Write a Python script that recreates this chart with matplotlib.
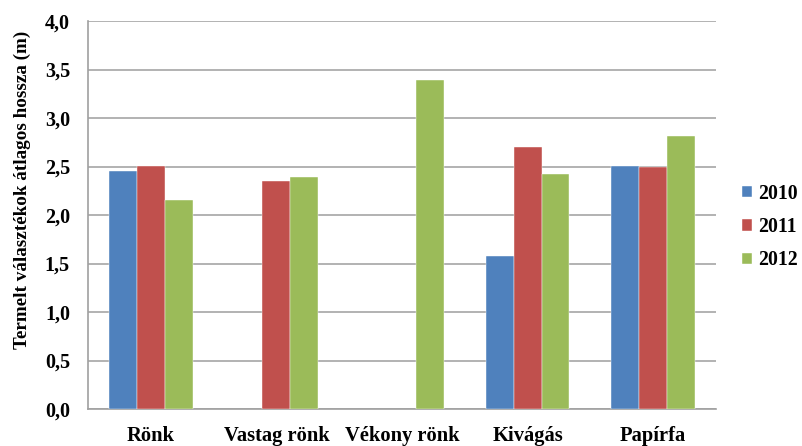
import numpy as np
import matplotlib.pyplot as plt

categories = ['Rönk', 'Vastag rönk', 'Vékony rönk', 'Kivágás', 'Papírfa']
years = ['2010', '2011', '2012']
v2010 = [2.45, np.nan, np.nan, 1.58, 2.51]
v2011 = [2.51, 2.35, np.nan, 2.70, 2.49]
v2012 = [2.15, 2.39, 3.39, 2.42, 2.81]
colors = ['#4F81BD', '#C0504D', '#9BBB59']

plt.rcParams['font.family'] = ['Liberation Serif', 'DejaVu Serif']
plt.rcParams['font.weight'] = 'bold'

fig = plt.figure(figsize=(8.03, 4.46), dpi=100)
ax = fig.add_axes([88 / 803, 37 / 446, 628 / 803, 388 / 446])

x = np.arange(len(categories))
w = 0.222
for i, (vals, col, lab) in enumerate(zip([v2010, v2011, v2012], colors, years)):
    ax.bar(x + (i - 1) * w, vals, w, color=col, label=lab, zorder=3,
           edgecolor='white', linewidth=0.3)

ax.set_xlim(-0.5, len(categories) - 0.5)
ax.set_ylim(0, 4.0)
ax.set_yticks(np.arange(0, 4.01, 0.5))
ax.set_yticklabels([f'{t:.1f}'.replace('.', ',') for t in np.arange(0, 4.01, 0.5)])
ax.set_xticks(x)
ax.set_xticklabels(categories)
ax.tick_params(axis='y', length=0, pad=13, labelsize=14.5)
ax.tick_params(axis='x', length=0, pad=12, labelsize=14.8)
ax.yaxis.grid(True, color='#a6a6a6', linewidth=1.2, zorder=0)
ax.set_axisbelow(True)
for s in ['top', 'right']:
    ax.spines[s].set_visible(False)
for s in ['left', 'bottom']:
    ax.spines[s].set_color('#a0a0a0')
    ax.spines[s].set_linewidth(1.2)

fig.text(22 / 803, 1 - 190 / 446, 'Termelt választékok átlagos hossza (m)',
         rotation=90, ha='center', va='center', fontsize=13.8, fontweight='bold')

ax.legend(loc='center left', bbox_to_anchor=(732 / 803, 1 - 227 / 446),
          bbox_transform=fig.transFigure, frameon=False, fontsize=14.2,
          handlelength=0.5, handleheight=0.5, handletextpad=0.35,
          labelspacing=0.68, borderpad=0)

fig.savefig('out.png', dpi=100)
